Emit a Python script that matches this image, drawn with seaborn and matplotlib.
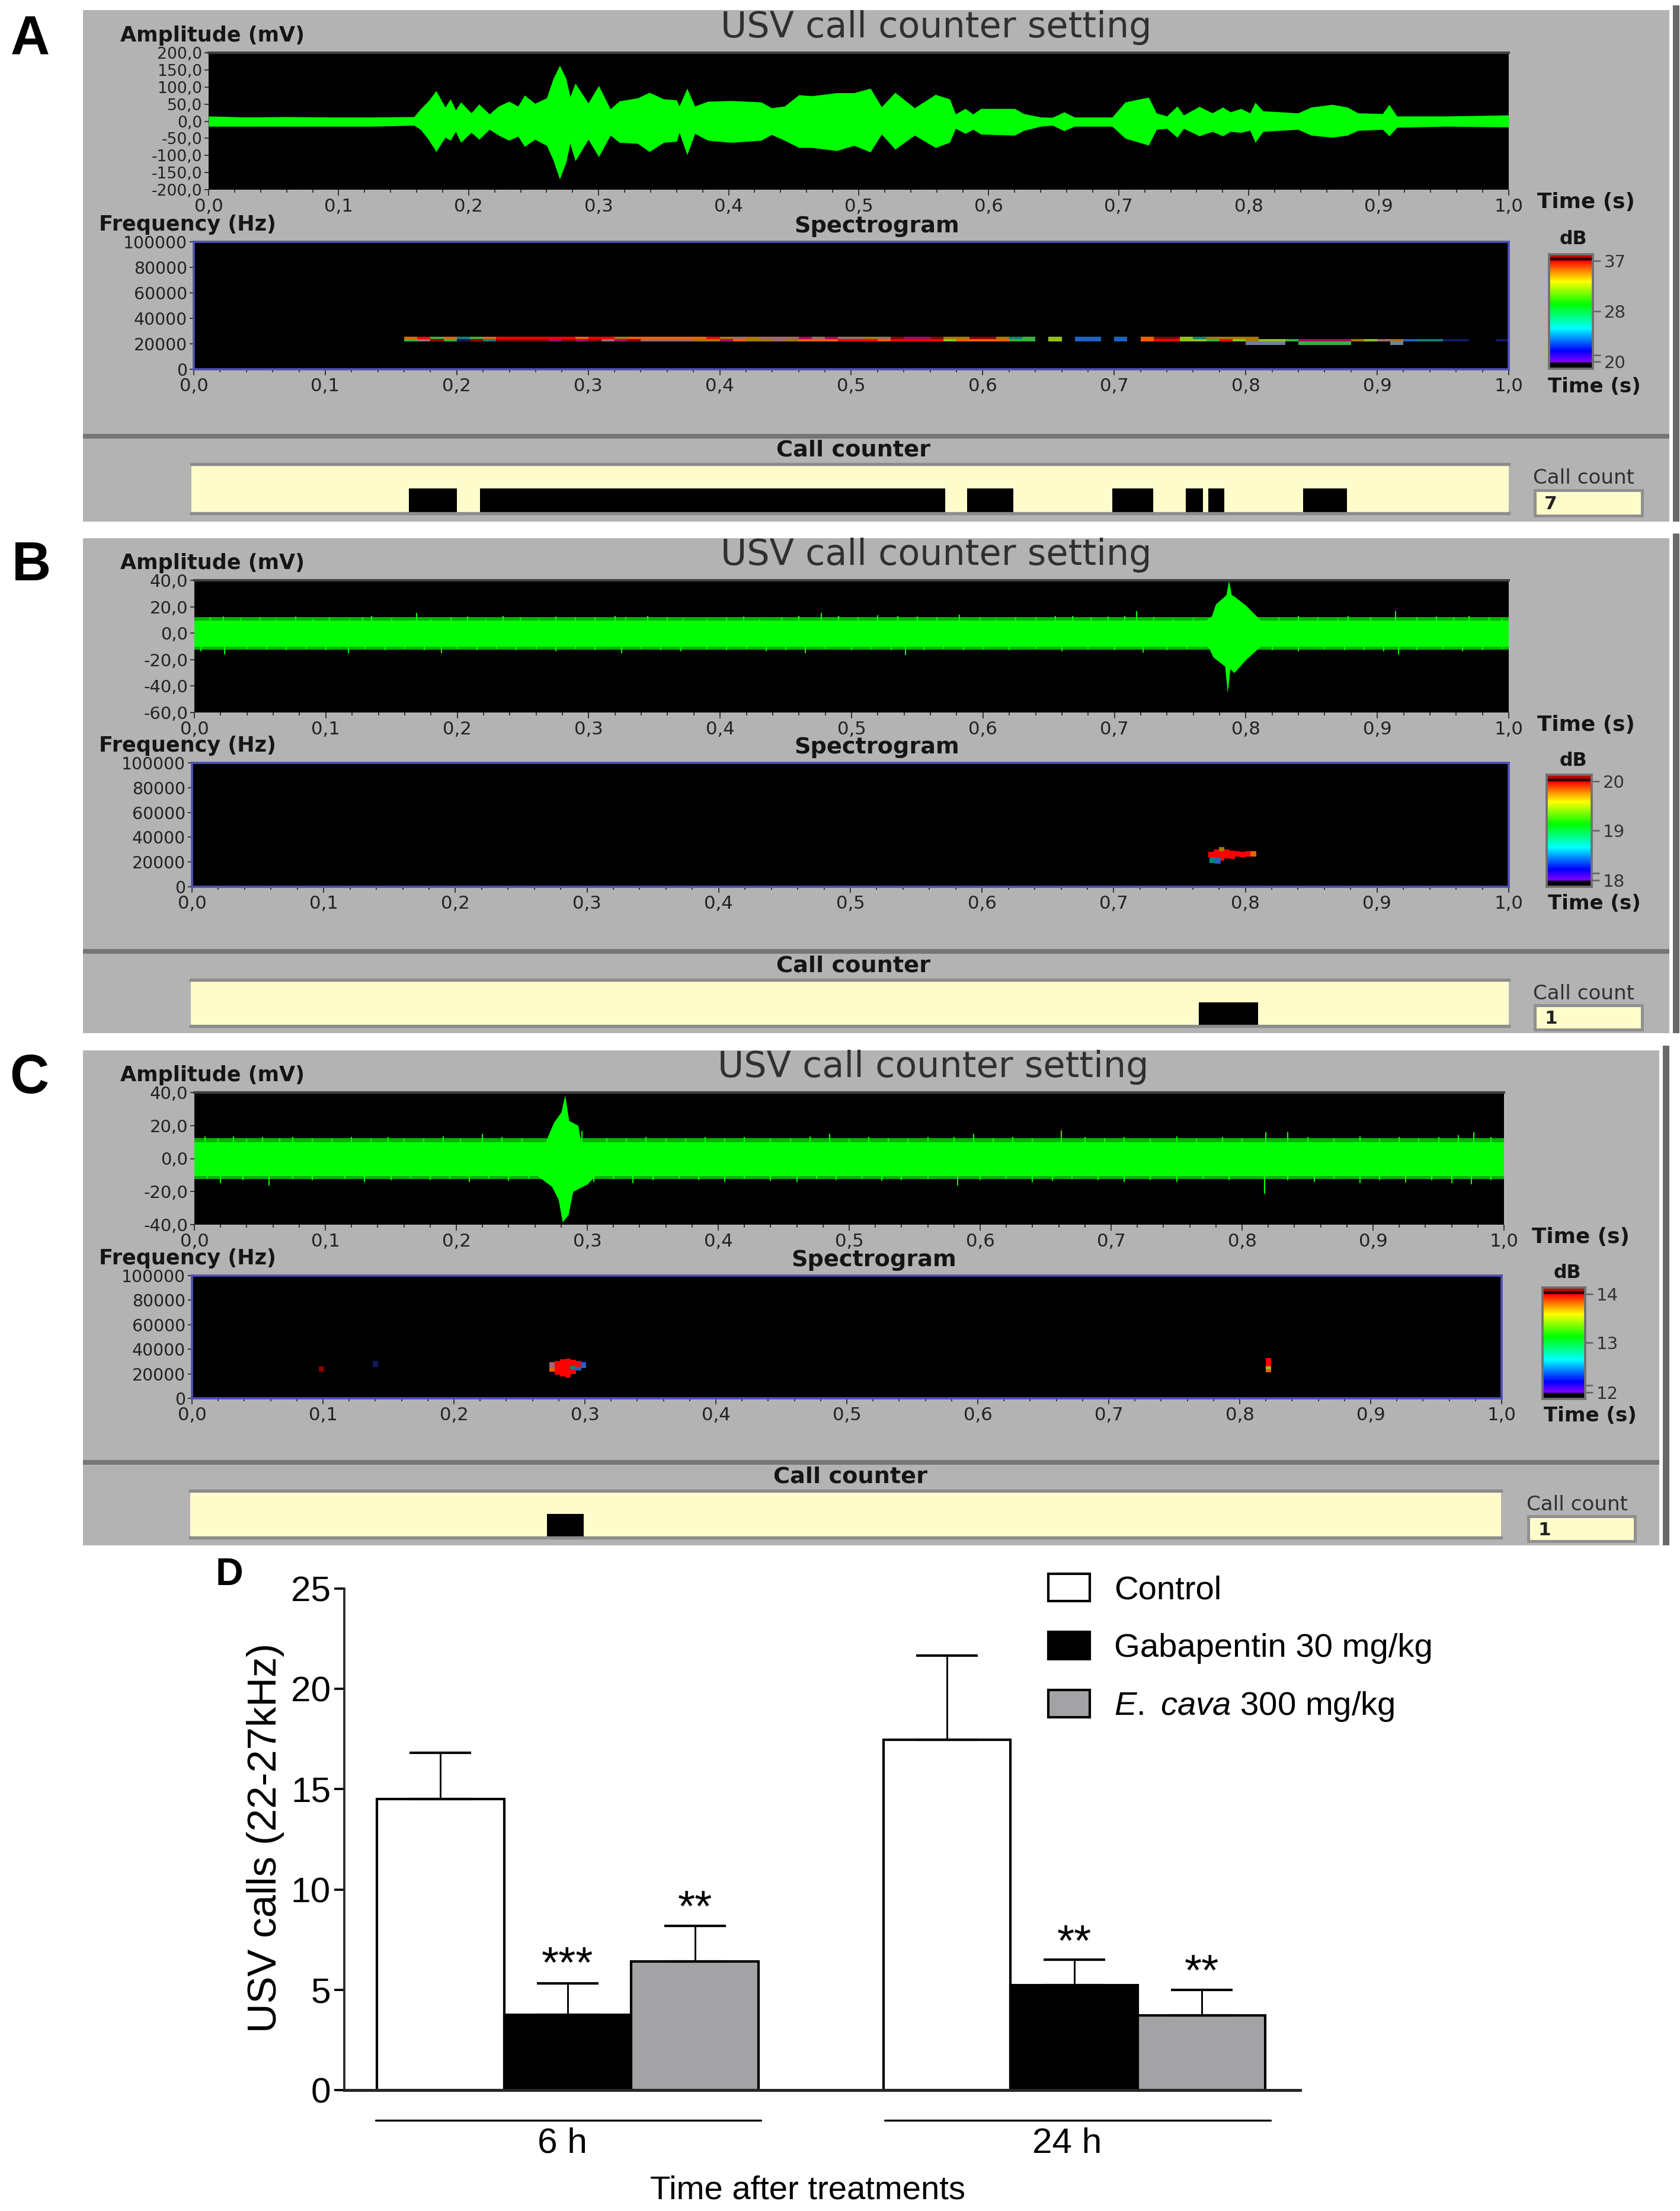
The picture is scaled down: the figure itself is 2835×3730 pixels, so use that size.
import numpy as np
import pandas as pd
import matplotlib
matplotlib.use("Agg")
import matplotlib.pyplot as plt
from matplotlib.colors import LinearSegmentedColormap, ListedColormap
from matplotlib.patches import Rectangle
from matplotlib.ticker import MultipleLocator
import seaborn as sns

W, H = 2835, 3730

# ---------- D: bar data ----------
times = ["6 h", "24 h"]
treatments = ["Control", "Gabapentin 30 mg/kg", r"$\mathit{E.}$ $\mathit{cava}$ 300 mg/kg"]
control_mean = [14.5, 17.45]
gabapentin_mean = [3.75, 5.22]
ecava_mean = [6.4, 3.73]
control_err = [2.3, 4.2]
gabapentin_err = [1.58, 1.28]
ecava_err = [1.8, 1.27]
star_labels = [["", ""], ["***", "**"], ["**", "**"]]
star_centres = [[0, 0], [6.2, 7.3], [9.0, 5.8]]
y_ticks_d = [0, 5, 10, 15, 20, 25]

# ---------- A: waveform envelope (s, mV) ----------
a_t = [0.0, .028, .060, .093, .125, .158, .163, .169, .175, .182, .186, .190, .194, .202, .208, .216, .223,
       .231, .238, .243, .251, .260, .265, .270, .275, .278, .282, .292, .300, .309, .316, .330, .339, .350,
       .360, .362, .368, .374, .384, .402, .425, .433, .443, .454, .464, .483, .4964, .509, .5176, .528, .543,
       .559, .570, .5745, .582, .588, .594, .620, .627, .640, .649, .658, .666, .695, .705, .723, .729, .737,
       .745, .750, .762, .772, .780, .786, .794, .801, .805, .811, .838, .848, .864, .876, .884, .903, .908,
       .914, .952, 1.0]
a_up = [15, 12, 13, 12, 12, 13, 36, 59, 89, 41, 65, 33, 56, 24, 50, 21, 44,
        58, 44, 76, 52, 68, 124, 163, 124, 71, 111, 53, 104, 36, 59, 68, 84, 65,
        62, 44, 96, 44, 58, 60, 56, 39, 44, 77, 74, 83, 83, 96, 42, 84, 39,
        78, 65, 21, 37, 21, 37, 37, 22, 12, 11, 27, 12, 12, 56, 70, 24, 15,
        44, 18, 43, 24, 41, 27, 37, 24, 55, 30, 24, 41, 49, 41, 24, 22, 49,
        15, 15, 18]
a_lo = [-15, -15, -15, -15, -15, -12, -24, -53, -89, -47, -56, -30, -62, -33, -53, -24, -41,
        -56, -44, -74, -53, -71, -113, -169, -119, -65, -116, -53, -104, -41, -62, -65, -89, -62,
        -59, -33, -98, -36, -56, -62, -56, -39, -56, -77, -77, -86, -71, -90, -38, -82, -41,
        -77, -62, -21, -36, -24, -38, -41, -27, -15, -12, -28, -15, -15, -50, -70, -24, -21,
        -47, -21, -43, -30, -43, -30, -33, -27, -62, -30, -24, -41, -47, -41, -27, -24, -43,
        -18, -15, -17]

# ---------- B: waveform ----------
b_band = [9.5, -10]
b_fuzz = [12, -12.5]
b_burst_t = [.770, .774, .777, .785, .787, .789, .791, .800, .811]
b_burst_up = [10, 13, 22, 29, 40, 29, 28, 21, 10]
b_burst_t2 = [.770, .772, .775, .784, .786, .788, .791, .800, .811]
b_burst_lo = [-10, -11.5, -18, -25, -45, -27, -30, -20, -10]
b_up_t = [.012, .022, .035, .05, .062, .077, .09, .103, .118, .128, .135, .15, .169, .18, .195, .208, .222, .235,
          .248, .262, .275, .29, .305, .32, .328, .345, .36, .372, .39, .405, .418, .43, .447, .46, .477, .49,
          .505, .52, .535, .55, .565, .582, .598, .61, .625, .64, .655, .668, .682, .695, .708, .717, .73, .745,
          .76, .825, .84, .855, .87, .878, .895, .914, .93, .945, .958, .97, .985, .995]
b_up_v = [12, 12.5, 11.5, 12, 11, 12.5, 11, 12, 11.5, 12, 13, 11.5, 15.5, 11, 12, 12.5, 11, 13, 12, 11.5, 12.5, 12, 12,
          13, 12, 13, 12, 11.5, 11.5, 12, 12.5, 11, 12, 13, 15.5, 13, 12, 13.5, 13, 12.5, 12, 14, 12, 11, 12, 12, 13,
          13, 12, 12.5, 13, 16.5, 12, 11, 11.5, 12, 13, 12, 11.5, 13, 12, 16.5, 12, 12.5, 12, 13, 12, 11.5]
b_lo_t = [.005, .023, .04, .055, .07, .085, .1, .117, .13, .145, .16, .175, .188, .2, .215, .23, .245, .26, .275, .29,
          .305, .325, .34, .355, .37, .39, .405, .42, .435, .45, .465, .48, .5, .515, .53, .541, .555, .57, .585, .6,
          .62, .64, .66, .68, .7, .722, .74, .755, .82, .84, .86, .875, .89, .905, .916, .93, .95, .965, .98, .995]
b_lo_v = [-14, -16, -12, -12.5, -13, -12, -13, -15, -12, -13, -12, -13, -15, -12, -13, -12, -13, -12.5, -14, -12, -13,
          -15, -12, -13, -14, -12.5, -13, -12, -14, -13, -15, -12, -13, -12.5, -13, -16.5, -13, -12, -13, -12.5, -13,
          -12, -14, -12.5, -13, -14.5, -13, -12, -13, -14, -12.5, -13, -13, -14, -16, -13, -12.5, -14, -13, -12]

# ---------- C: waveform ----------
c_band = [10, -10.5]
c_fuzz = [12.5, -12.5]
c_burst_t = [.268, .2745, .280, .283, .286, .293, .295]
c_burst_up = [10, 22, 28, 38.4, 23, 20, 10]
c_burst_t2 = [.262, .273, .278, .281, .2855, .289, .300, .306]
c_burst_lo = [-10.5, -17, -25, -38.5, -34, -20, -15.5, -10.5]
c_up_t = [.008, .018, .03, .04, .052, .065, .075, .09, .105, .12, .135, .148, .16, .175, .19, .203, .22, .235, .25, .296,
          .315, .33, .345, .36, .375, .39, .405, .42, .44, .455, .47, .485, .5, .515, .53, .545, .56, .58, .595, .61,
          .625, .64, .662, .68, .695, .71, .73, .75, .765, .785, .8, .818, .835, .85, .87, .89, .905, .92, .935, .95,
          .965, .977, .99]
c_up_v = [13.5, 12.5, 13.5, 12, 13, 12.5, 13, 12, 12.5, 13, 12, 13, 12.5, 12, 13.5, 12, 15, 13, 12.5, 16.6, 12.5, 12, 13,
          12.5, 12, 13, 12.5, 13, 12, 12.5, 13.5, 15, 12, 13, 12.5, 12, 13, 13, 15, 12.5, 13, 12, 17, 13, 12.5, 13, 12,
          13.5, 12, 13, 12.5, 16, 16, 13, 12.5, 13.5, 12, 13, 12.5, 13, 14, 16, 13]
c_lo_t = [.01, .02, .037, .057, .075, .09, .115, .13, .15, .165, .18, .195, .21, .225, .24, .255, .305, .32, .335, .35,
          .37, .385, .405, .42, .44, .46, .475, .49, .51, .525, .54, .56, .583, .6, .62, .64, .655, .67, .69, .71, .73,
          .75, .77, .79, .817, .835, .855, .87, .89, .905, .925, .945, .96, .975, .99]
c_lo_v = [-12, -15, -13, -16.5, -12.5, -13, -12.5, -14, -13, -12, -13, -12.5, -14, -12, -13.5, -12, -14, -12.5, -15, -13,
          -12, -13, -14, -12.5, -13.5, -14, -12.5, -13, -12, -13.5, -13, -12.5, -16.5, -13, -12, -14, -13.5, -12.5, -13,
          -14, -13, -14, -12.5, -13, -21.5, -13, -14, -12.5, -15, -13, -14.5, -13, -15, -15.5, -13]

# ---------- A: spectrogram strip, one colour code per 0.01 s from 0.16 s ----------
spec_colors = {"k": "#000000", "r": "#FF0000", "o": "#F06000", "b": "#A87800", "m": "#A06870", "d": "#8C0000",
               "g": "#38B040", "t": "#108078", "u": "#2060C0", "n": "#101860", "p": "#A80868", "y": "#90C020",
               "s": "#7080A0"}
strip_start = 0.16
strip_rows_hz = [25600, 23700, 21800, 19000]
strip_row1 = "orgotgorrr" "rrrorrbooo" "ooorbmbmmm" "pmpmmbmdpp" "dbbddbtgky" "kuukukoddy" "tbbbbkkkkk" "kkkkkkkkkkkkkk"
strip_row2 = "gmdgndtddd" "dpdpdmpdmm" "mmbbpobbmb" "ooorrrorrr" "ryooooggky" "kuukukorry" "ygrybyygpp" "ppbymbuttnnkkn"
strip_row3 = "k" * 64 + "sssk" + "gggg" + "kkk" + "s" + "k" * 8

# ---------- B, C: spectrogram spots ----------
b_spot_t = [.774, .778, .778, .782, .782, .782, .786, .786, .790, .790, .794, .798, .802, .806, .775, .779]
b_spot_f = [26000, 28000, 24000, 30000, 26500, 23500, 28000, 25000, 27000, 24500, 26500, 26000, 26500, 26500, 21500, 21000]
b_spot_c = ["r", "r", "r", "b", "r", "r", "r", "r", "r", "r", "r", "r", "r", "o", "t", "u"]
c_spot_t = [.275, .275, .279, .279, .279, .283, .283, .283, .283, .287, .287, .287, .287, .291, .291, .291, .295, .295,
            .299, .822, .822, .822, .822, .099, .140]
c_spot_f = [24000, 27000, 21500, 25000, 28000, 20000, 23000, 26500, 29500, 19000, 23000, 26500, 30000, 22000, 25500, 29000,
            25000, 28000, 27000, 23500, 26000, 28500, 30500, 24000, 28000]
c_spot_c = ["o", "m", "r", "r", "r", "r", "r", "r", "r", "r", "r", "r", "r", "r", "t", "r", "u", "r", "u", "o", "y", "r",
            "r", "d", "n"]

# ---------- counters ----------
a_calls_start = [.1650, .219, .589, .699, .755, .772, .844]
a_calls_end = [.2016, .572, .624, .730, .768, .784, .877]
b_calls_start = [.765]
b_calls_end = [.810]
c_calls_start = [.272]
c_calls_end = [.300]
call_height = 0.51

amp_a_ticks = [-200, -150, -100, -50, 0, 50, 100, 150, 200]
amp_b_ticks = [-60, -40, -20, 0, 20, 40]
amp_c_ticks = [-40, -20, 0, 20, 40]
freq_ticks = [0, 20000, 40000, 60000, 80000, 100000]
time_ticks = [0.0, 0.1, 0.2, 0.3, 0.4, 0.5, 0.6, 0.7, 0.8, 0.9, 1.0]
cbar_labels = {"A": ["20", "28", "37"], "B": ["18", "19", "20"], "C": ["12", "13", "14"]}
call_counts = {"A": "7", "B": "1", "C": "1"}

# ---------- theme ----------
sns.set_theme(style="ticks")
SANS = ["Liberation Sans", "DejaVu Sans"]
plt.rcParams["font.family"] = ["DejaVu Sans"]
plt.rcParams["mathtext.fontset"] = "custom"
plt.rcParams["mathtext.it"] = "Liberation Sans:italic"
plt.rcParams["mathtext.rm"] = "Liberation Sans"

fig = plt.figure(figsize=(W / 300, H / 300), dpi=300, facecolor="white")


def axpx(x0, y0, x1, y1, **kw):
    return fig.add_axes([x0 / W, 1 - y1 / H, (x1 - x0) / W, (y1 - y0) / H], **kw)


def txt(x, y, s, **kw):
    kw.setdefault("ha", "left")
    kw.setdefault("va", "center")
    kw.setdefault("color", "#151515")
    return fig.text(x / W, 1 - y / H, s, **kw)


def rect(x0, y0, x1, y1, color):
    fig.add_artist(Rectangle((x0 / W, 1 - y1 / H), (x1 - x0) / W, (y1 - y0) / H, transform=fig.transFigure,
                             facecolor=color, edgecolor="none", zorder=-5))


def style_time(ax, ysize=6.8):
    ax.set_xlim(0, 1)
    ax.set_xticks(time_ticks)
    ax.set_xticklabels([f"{v:.1f}".replace(".", ",") for v in time_ticks], fontsize=7.4, color="#222222")
    ax.xaxis.set_minor_locator(MultipleLocator(0.02))
    ax.tick_params(axis="x", which="major", length=2.4, width=0.45, pad=1.0, color="#303030")
    ax.tick_params(axis="x", which="minor", length=1.3, width=0.45, color="#303030")
    ax.tick_params(axis="y", length=1.8, width=0.45, pad=0.8, color="#303030", labelsize=ysize, labelcolor="#222222")


GRAY = "#B3B3B3"
GREEN = "#00FF00"
FUZZ = "#00B400"
layout = {
    "A": dict(panel=(140, 17, 2817, 880), amp=(352, 89, 2546, 320), spec=(327, 408, 2546, 623), cb=(2614, 429, 2688, 622),
              cnt=(323, 783, 2546, 866), box=(2590, 827, 2771, 870), sep=736, title=1580, tl=2594, stl=2612, cc=1440,
              sg=1480, db=2655, ccl=2587),
    "B": dict(panel=(140, 908, 2817, 1743), amp=(328, 979, 2546, 1202), spec=(324, 1287, 2546, 1496), cb=(2610, 1307, 2686, 1496),
              cnt=(322, 1653, 2546, 1731), box=(2590, 1696, 2771, 1737), sep=1605, title=1580, tl=2594, stl=2612, cc=1440,
              sg=1480, db=2655, ccl=2587),
    "C": dict(panel=(140, 1772, 2800, 2607), amp=(328, 1843, 2538, 2066), spec=(324, 2152, 2534, 2359), cb=(2603, 2172, 2675, 2360),
              cnt=(321, 2515, 2533, 2594), box=(2579, 2558, 2759, 2600), sep=2467, title=1575, tl=2585, stl=2605, cc=1435,
              sg=1475, db=2645, ccl=2576),
}

rainbow = LinearSegmentedColormap.from_list("usv", [
    (0.0, "#000000"), (0.045, "#000000"), (0.06, "#8000FF"), (0.155, "#0000FF"), (0.35, "#00FFFF"), (0.56, "#00FF00"),
    (0.76, "#FFFF00"), (0.855, "#FF8000"), (0.94, "#FF0000"), (0.945, "#300000"), (0.965, "#300000"), (0.97, "#C00000"),
    (1.0, "#C00000")])
codes = list(spec_colors)
code_cmap = ListedColormap([spec_colors[c] for c in codes])


def waveform(ax, panel):
    ax.set_facecolor("black")
    if panel == "A":
        ax.fill_between(a_t, a_lo, a_up, color=GREEN, lw=0)
        ax.set_ylim(-200, 200)
        ax.set_yticks(amp_a_ticks)
        ticks = amp_a_ticks
    else:
        band, fuzz, bt, bu, bt2, bl, ut, uv, lt, lv, ticks = (
            (b_band, b_fuzz, b_burst_t, b_burst_up, b_burst_t2, b_burst_lo, b_up_t, b_up_v, b_lo_t, b_lo_v, amp_b_ticks)
            if panel == "B" else
            (c_band, c_fuzz, c_burst_t, c_burst_up, c_burst_t2, c_burst_lo, c_up_t, c_up_v, c_lo_t, c_lo_v, amp_c_ticks))
        ax.axhspan(fuzz[1], fuzz[0], color=FUZZ, lw=0)
        ax.axhspan(band[1], band[0], color=GREEN, lw=0)
        ax.fill_between(bt, 0, bu, color=GREEN, lw=0)
        ax.fill_between(bt2, bl, 0, color=GREEN, lw=0)
        ax.vlines(ut, 0, uv, color=GREEN, lw=0.5)
        ax.vlines(lt, lv, 0, color=GREEN, lw=0.5)
        ax.set_ylim(ticks[0], ticks[-1])
        ax.set_yticks(ticks)
    ax.set_yticklabels([f"{v:.1f}".replace(".", ",") for v in ticks])
    style_time(ax, 6.4 if panel == "A" else 7.0)
    for s in ax.spines.values():
        s.set_visible(False)
    ax.spines["top"].set_visible(True)
    ax.spines["top"].set_color("#404040")
    ax.spines["top"].set_linewidth(1.0)


def spectrogram(ax, panel):
    ax.set_facecolor("black")
    if panel == "A":
        n = len(strip_row1)
        edges = np.round(strip_start + 0.01 * np.arange(n + 1), 3)
        rows = [strip_row3, strip_row2, strip_row1]
        z = np.array([[codes.index(c) for c in r] for r in rows])
        ax.pcolormesh(edges, strip_rows_hz[::-1], z, cmap=code_cmap, vmin=-0.5, vmax=len(codes) - 0.5, lw=0)
    else:
        st, sf, sc = (b_spot_t, b_spot_f, b_spot_c) if panel == "B" else (c_spot_t, c_spot_f, c_spot_c)
        sns.scatterplot(x=st, y=sf, hue=sc, palette=spec_colors, marker="s", s=5, lw=0, ax=ax, legend=False)
    ax.set_ylim(0, 100000)
    ax.set_yticks(freq_ticks)
    ax.set_yticklabels([str(v) for v in freq_ticks])
    style_time(ax, 6.8)
    for s in ax.spines.values():
        s.set_color("#5050B8")
        s.set_linewidth(0.9)


def colourbar(ax, panel):
    ax.imshow(np.linspace(1, 0, 256)[:, None], cmap=rainbow, aspect="auto", extent=(0, 1, 0, 1))
    ax.set_xticks([])
    ax.yaxis.tick_right()
    ax.set_yticks([0.06, 0.12, 0.503, 0.943])
    labs = cbar_labels[panel]
    ax.set_yticklabels([labs[0], "", labs[1], labs[2]], fontsize=7.0, color="#333333")
    ax.tick_params(axis="y", length=3, width=0.6, pad=1.5, color="#606060")
    for s in ax.spines.values():
        s.set_color("#707070")
        s.set_linewidth(0.9)


def counter(ax, panel):
    ax.set_facecolor("#FFFCCB")
    st, en = {"A": (a_calls_start, a_calls_end), "B": (b_calls_start, b_calls_end), "C": (c_calls_start, c_calls_end)}[panel]
    ax.barh(0, np.array(en) - np.array(st), left=st, height=call_height, align="edge", color="black", lw=0)
    ax.set_xlim(0, 1)
    ax.set_ylim(0, 1)
    ax.set_xticks([])
    ax.set_yticks([])
    for k, s in ax.spines.items():
        s.set_visible(k in ("top", "bottom"))
        s.set_color("#8C8C8C")
        s.set_linewidth(1.3)


for p, L in layout.items():
    x0, y0, x1, y1 = L["panel"]
    rect(x0, y0, x1, y1, GRAY)
    rect(x1 + 6, y0 - 8, x1 + 17, y1, "#6A6A6A")
    rect(x0, L["sep"] - 4, x1, L["sep"] + 4, "#767676")

    waveform(axpx(*L["amp"], facecolor="black"), p)
    spectrogram(axpx(*L["spec"], facecolor="black"), p)
    colourbar(axpx(*L["cb"]), p)
    counter(axpx(*L["cnt"]), p)

    bx = axpx(*L["box"], facecolor="#FFFCCB")
    bx.set_xticks([])
    bx.set_yticks([])
    for s in bx.spines.values():
        s.set_color("#909090")
        s.set_linewidth(1.2)
    bx.text(0.09, 0.45, call_counts[p], transform=bx.transAxes, fontsize=7.5, fontweight="bold", va="center", color="#222222")

    amp_top, amp_bot = L["amp"][1], L["amp"][3]
    sp_top, sp_bot = L["spec"][1], L["spec"][3]
    txt(L["title"], amp_top - 43, "USV call counter setting", ha="center", fontsize=14.5, color="#303030")
    txt(203, amp_top - 29, "Amplitude (mV)", fontsize=8.4, fontweight="bold")
    txt(L["tl"], amp_bot + 21, "Time (s)", fontsize=8.6, fontweight="bold")
    txt(167, sp_top - 29, "Frequency (Hz)", fontsize=8.4, fontweight="bold")
    txt(L["sg"], sp_top - 26, "Spectrogram", ha="center", fontsize=9.2, fontweight="bold")
    txt(L["db"], sp_top - 4, "dB", ha="center", fontsize=7.6, fontweight="bold")
    txt(L["stl"], sp_bot + 29, "Time (s)", fontsize=8.2, fontweight="bold")
    txt(L["cc"], L["cnt"][1] - 24, "Call counter", ha="center", fontsize=9.2, fontweight="bold")
    txt(L["ccl"], L["cnt"][1] + 23, "Call count", fontsize=8.2, color="#303030")

txt(18, 67, "A", fontsize=22, fontweight="bold", family=["Liberation Sans"], color="black")
txt(20, 955, "B", fontsize=22, fontweight="bold", family=["Liberation Sans"], color="black")
txt(16, 1820, "C", fontsize=22, fontweight="bold", family=["Liberation Sans"], color="black")
txt(364, 2657, "D", fontsize=15.5, fontweight="bold", family=["Liberation Sans"], color="black")

# ---------- D ----------
ax = axpx(581, 2680, 2194, 3526, facecolor="white")
df = pd.DataFrame({
    "time": times * 3,
    "treatment": [treatments[0]] * 2 + [treatments[1]] * 2 + [treatments[2]] * 2,
    "calls": control_mean + gabapentin_mean + ecava_mean,
})
sns.barplot(data=df, x="time", y="calls", hue="treatment", order=times, hue_order=treatments,
            palette=["white", "black", "#A2A2A6"], width=0.754, gap=0, edgecolor="black", linewidth=1.0, ax=ax)
errs = [control_err, gabapentin_err, ecava_err]
means = [control_mean, gabapentin_mean, ecava_mean]
bar_groups = list(ax.containers)
for k, cont in enumerate(bar_groups):
    xs = [b.get_x() + b.get_width() / 2 for b in cont]
    ax.errorbar(xs, means[k], yerr=[np.zeros(2), errs[k]], fmt="none", ecolor="black", elinewidth=0.7, capsize=12.5,
                capthick=1.0, zorder=1)
    for xp, lab, yc in zip(xs, star_labels[k], star_centres[k]):
        if lab:
            ax.text(xp, yc, lab, ha="center", va="center", fontsize=18, family=SANS, color="black")
ax.set_xlim(-0.441, 1.446)
ax.set_ylim(0, 25)
ax.set_yticks(y_ticks_d)
ax.set_yticklabels([str(v) for v in y_ticks_d], fontsize=14.5, family=SANS, color="black")
ax.tick_params(axis="y", length=4, width=0.9, pad=1.5, color="black")
ax.tick_params(axis="x", length=0, pad=15)
ax.set_xticks([-0.01, 0.986])
ax.set_xticklabels(times, fontsize=14.5, family=SANS, color="black")
sns.despine(ax=ax)
ax.spines["left"].set_linewidth(0.9)
ax.spines["bottom"].set_linewidth(1.2)
ax.plot([-0.379, 0.381], [-1.5, -1.5], color="black", lw=0.8, clip_on=False)
ax.plot([0.626, 1.388], [-1.5, -1.5], color="black", lw=0.8, clip_on=False)
ax.set_xlabel("Time after treatments", fontsize=13.5, family=SANS, color="black")
ax.xaxis.set_label_coords(0.485, -0.17)
ax.xaxis.label.set_verticalalignment("top")
ax.set_ylabel("USV calls (22-27kHz)", fontsize=16.5, family=SANS, color="black")
ax.yaxis.set_label_coords((480 - 581) / 1613, 0.5 - (3100 - 3103) / 846)
h, l = ax.get_legend_handles_labels()
leg = ax.legend(h, l, loc="upper left", bbox_to_anchor=(1769 / W, 1 - 2655 / H), bbox_transform=fig.transFigure,
                frameon=False, prop={"family": SANS, "size": 13.5}, handlelength=1.25, handleheight=0.87, handletextpad=0.73,
                labelspacing=0.78, borderpad=0, borderaxespad=0)
for t_ in leg.get_texts():
    t_.set_color("black")

fig.savefig("out.png", dpi=300, facecolor="white")
